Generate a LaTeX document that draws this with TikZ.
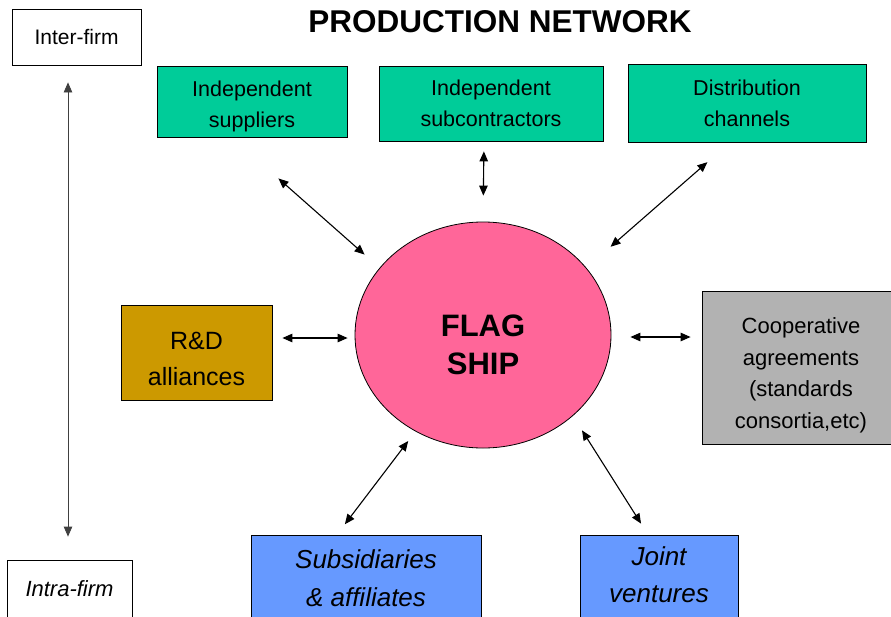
\documentclass[tikz,border=0pt]{standalone}
\usepackage{fontspec}
\setmainfont{Liberation Sans}
\usetikzlibrary{shapes.geometric,arrows.meta}
\tikzset{>={Triangle[length=10pt,width=8.5pt]}}
\definecolor{netgreen}{HTML}{00CC99}
\definecolor{flagpink}{HTML}{FF6699}
\definecolor{rdgold}{HTML}{CC9900}
\definecolor{coopgray}{HTML}{B2B2B2}
\definecolor{intrablue}{HTML}{6699FF}
\newcommand{\fsz}[2]{\fontsize{#1}{#2}\selectfont}
\newcommand{\dropby}[1]{\rule{0pt}{#1}}
\newcommand{\liftby}[1]{\rule[-#1]{0pt}{#1}}

\begin{document}
\begin{tikzpicture}[x=1pt,y=-1pt,
    box/.style={draw=black,line width=0.8pt,align=center,inner sep=0pt},
    link/.style={<->,line width=1.1pt}]
    \useasboundingbox (0,0) rectangle (891,616);

    % title and the two ends of the scale
    \node[font=\fsz{31.5}{36}\bfseries] (title) at (500,22) {PRODUCTION NETWORK};
    \node[box,font=\fsz{21}{26},minimum width=129pt,minimum height=56pt] (inter) at (76.5,37) {Inter-firm};
    \node[box,font=\fsz{22}{26}\itshape,minimum width=125pt,minimum height=58pt] (intra) at (69.5,589) {Intra-firm};
    \draw[<->,line width=0.8pt,black!75,shorten <=17pt,shorten >=23pt]
        ([xshift=-8.5pt]inter.south)--([xshift=-1.5pt]intra.north);

    % the flagship
    \node[ellipse,draw=black,line width=0.8pt,fill=flagpink,minimum width=256pt,minimum height=226pt,align=center,
        font=\fsz{31}{38}\bfseries] (flag) at (483,335) {\dropby{42pt}FLAG\\SHIP};

    % inter-firm partners
    \node[box,fill=netgreen,font=\fsz{21.5}{31},minimum width=190pt,minimum height=71pt] (sup) at (252,101.5) {\dropby{25pt}Independent\\suppliers};
    \node[box,fill=netgreen,font=\fsz{21.5}{31},minimum width=224pt,minimum height=75pt] (sub) at (491,103.5) {Independent\\subcontractors};
    \node[box,fill=netgreen,font=\fsz{21.5}{31},minimum width=238pt,minimum height=78pt] (dist) at (747,103) {Distribution\\channels};
    \node[box,fill=rdgold,font=\fsz{25}{36},minimum width=151pt,minimum height=95pt] (rd) at (196.5,352.5) {\dropby{30pt}R\&D\\alliances};
    \node[box,fill=coopgray,font=\fsz{22}{31.5},minimum width=198pt,minimum height=153pt] (coop) at (801,367.5) {\dropby{32pt}Cooperative\\agreements\\(standards\\consortia,etc)};

    % intra-firm units
    \node[box,fill=intrablue,font=\fsz{26}{38}\itshape,minimum width=230pt,minimum height=86pt] (subs) at (366,578) {Subsidiaries\\\& affiliates};
    \node[box,fill=intrablue,font=\fsz{26}{37}\itshape,minimum width=158pt,minimum height=86pt] (joint) at (659,578) {Joint\\ventures\liftby{7pt}};

    % links to the flagship
    \draw[link,shorten <=62pt,shorten >=20pt] ([xshift=-20pt]sup.south)--(flag.147);
    \draw[link,shorten <=10pt,shorten >=26pt] ([xshift=-7pt]sub.south)--(flag.north);
    \draw[link,shorten <=30pt,shorten >=32pt] ([xshift=-17pt]dist.south)--(flag.33);
    \draw[link,shorten <=10pt,shorten >=7pt] ([yshift=14.5pt]rd.east)--([yshift=-3pt]flag.west);
    \draw[link,shorten <=19pt,shorten >=11pt] ([yshift=-2pt]flag.east)--([yshift=30.5pt]coop.west);
    \draw[link,shorten <=12pt,shorten >=13pt] (flag.235)--([xshift=-29pt]subs.north);
    \draw[link,shorten <=17pt,shorten >=13pt] (flag.-42)--([xshift=-11pt]joint.north);
\end{tikzpicture}
\end{document}
